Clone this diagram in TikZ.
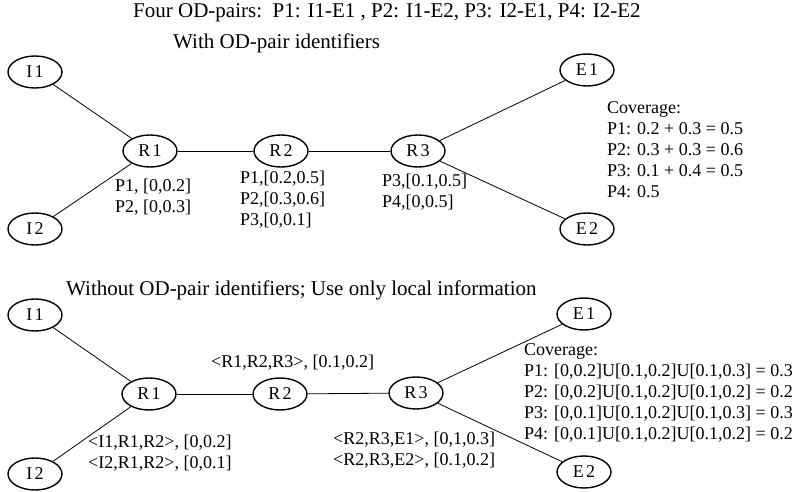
\documentclass[tikz,border=0pt]{standalone}
\usepackage{fontspec}
\setmainfont{Liberation Serif}
\usetikzlibrary{shapes.geometric}
\tikzset{
  nd/.style={ellipse,draw,line width=1.4pt,minimum width=54pt,minimum height=32pt,inner sep=0pt,font=\fontsize{18}{20}\selectfont\addfontfeatures{LetterSpace=12}},
  ln/.style={line width=0.8pt},
  lbl/.style={anchor=west,align=left,inner sep=0pt,font=\fontsize{18}{21}\selectfont},
  ttl/.style={anchor=west,inner sep=0pt,font=\fontsize{21}{24}\selectfont},
}
\begin{document}
\begin{tikzpicture}[x=1pt,y=-1pt]
\useasboundingbox (0,0) rectangle (796,492);
% top diagram
\node[ttl] (t1) at (133,13) {Four OD-pairs:\ \ P1: I1-E1 , P2: I1-E2, P3: I2-E1, P4: I2-E2};
\node[ttl] (t2) at (173,43) {With OD-pair identifiers};
\node[nd] (aI1) at (35,72) {I1};
\node[nd] (aI2) at (35,229) {I2};
\node[nd] (aR1) at (150,151) {R1};
\node[nd] (aR2) at (281,151) {R2};
\node[nd] (aR3) at (418,151) {R3};
\node[nd] (aE1) at (587,70) {E1};
\node[nd] (aE2) at (587,229) {E2};
\draw[ln] (aI1) -- (aR1);
\draw[ln] (aI2) -- (aR1);
\draw[ln] (aR1) -- (aR2);
\draw[ln] (aR2) -- (aR3);
\draw[ln] (aR3) -- (aE1);
\draw[ln] (aR3) -- (aE2);
\node[lbl] (aL1) at (115,197) {P1, [0,0.2]\\P2, [0,0.3]};
\node[lbl] (aL2) at (240,200) {P1,[0.2,0.5]\\P2,[0.3,0.6]\\P3,[0,0.1]};
\node[lbl] (aL3) at (382,192) {P3,[0.1,0.5]\\P4,[0,0.5]};
\node[lbl] (aC) at (607,150) {Coverage:\\P1: 0.2 + 0.3 = 0.5\\P2: 0.3 + 0.3 = 0.6\\P3: 0.1 + 0.4 = 0.5\\P4: 0.5};
% bottom diagram
\node[ttl] (t3) at (66,290) {Without OD-pair identifiers; Use only local information};
\node[nd] (bI1) at (35,315) {I1};
\node[nd] (bI2) at (35,474) {I2};
\node[nd] (bR1) at (149,394) {R1};
\node[nd] (bR2) at (280,394) {R2};
\node[nd] (bR3) at (416,393) {R3};
\node[nd] (bE1) at (584,314) {E1};
\node[nd] (bE2) at (584,472) {E2};
\draw[ln] (bI1) -- (bR1);
\draw[ln] (bI2) -- (bR1);
\draw[ln] (bR1) -- (bR2);
\draw[ln] (bR2) -- (bR3);
\draw[ln] (bR3) -- (bE1);
\draw[ln] (bR3) -- (bE2);
\node[lbl] (bL2) at (211,363) {<R1,R2,R3>, [0.1,0.2]};
\node[lbl] (bL1) at (88,453) {<I1,R1,R2>, [0,0.2]\\<I2,R1,R2>, [0,0.1]};
\node[lbl] (bL3) at (333,450) {<R2,R3,E1>, [0,1,0.3]\\<R2,R3,E2>, [0.1,0.2]};
\node[lbl] (bC) at (524,393) {Coverage:\\P1: [0,0.2]U[0.1,0.2]U[0.1,0.3] = 0.3\\P2: [0,0.2]U[0.1,0.2]U[0.1,0.2] = 0.2\\P3: [0,0.1]U[0.1,0.2]U[0.1,0.3] = 0.3\\P4: [0,0.1]U[0.1,0.2]U[0.1,0.2] = 0.2};
\end{tikzpicture}
\end{document}
